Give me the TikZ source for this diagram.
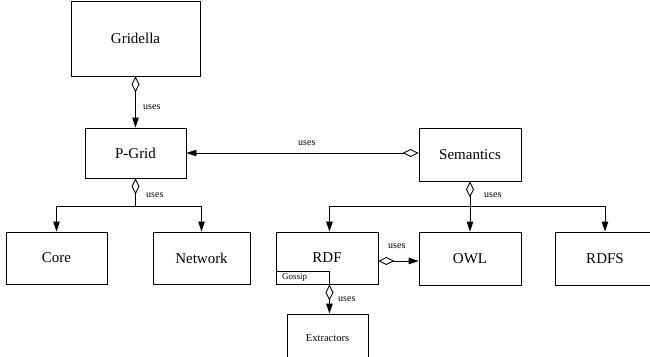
\documentclass[tikz,border=0pt]{standalone}
\usepackage{fontspec}
\setmainfont{Liberation Serif}
\usetikzlibrary{arrows.meta}
\tikzset{
  box/.style={draw, line width=0.9pt, inner sep=0pt, font=\fontsize{15}{18}\selectfont},
  lbl/.style={inner sep=0pt, anchor=west, font=\fontsize{10}{12}\selectfont},
  conn/.style={line width=0.9pt},
  dia/.style={conn, {Diamond[open, length=16pt, width=8pt, line width=0.9pt]}-},
  arr/.style={conn, -{Triangle[length=10pt, width=6.5pt]}},
  diaarr/.style={conn, {Diamond[open, length=16pt, width=8pt, line width=0.9pt]}-{Triangle[length=10pt, width=6.5pt]}}
}
\begin{document}
\begin{tikzpicture}[x=1pt, y=-1pt]
\useasboundingbox (0,0) rectangle (650,356);
\clip (0,0) rectangle (650,356);

\node[box, minimum width=129pt, minimum height=75pt] (gri) at (135.5,38.5) {Gridella};
\node[box, minimum width=101pt, minimum height=50pt] (pg) at (135.5,153) {P-Grid};
\node[box, minimum width=102pt, minimum height=53pt] (sem) at (470,154.5) {Semantics};
\node[box, minimum width=101pt, minimum height=52pt] (core) at (56.5,258) {Core};
\node[box, minimum width=97pt, minimum height=52pt] (net) at (201.5,258) {Network};
\node[box, minimum width=102pt, minimum height=52pt] (rdf) at (327,258) {RDF};
\node[box, minimum width=102pt, minimum height=53pt] (owl) at (470,258.5) {OWL};
\node[box, minimum width=100pt, minimum height=53pt] (rdfs) at (605,258.5) {RDFS};
\node[box, minimum width=81pt, minimum height=48pt, font=\fontsize{10.5}{12}\selectfont] (ext) at (327.5,338) {Extractors};
\node[draw, line width=0.9pt, anchor=south west, text width=41pt, inner xsep=6pt, inner ysep=0pt, minimum height=13pt, font=\fontsize{9}{10}\selectfont] (gos) at (rdf.south west) {Gossip};

\coordinate (pj) at (135.5,206);
\coordinate (sj) at (470,206);

\draw[diaarr] (gri.south) -- (pg.north);
\draw[diaarr] (sem.west |- 0,153) -- (pg.east |- 0,153);
\draw[dia] (pg.south) -- (pj);
\draw[arr] (pj) -| (core.north);
\draw[arr] (pj) -| (net.north);
\draw[dia] (sem.south) -- (sj);
\draw[arr] (sj) -| (gos.north east |- rdf.north);
\draw[arr] (sj) -- (owl.north);
\draw[arr] (sj) -| (rdfs.north);
\draw[diaarr] (rdf.east |- 0,261) -- (owl.west |- 0,261);
\draw[diaarr] (gos.south east) -- (gos.south east |- ext.north);

\node[lbl] (u1) at (143,107) {uses};
\node[lbl] (u2) at (298,143) {uses};
\node[lbl] (u3) at (146,195) {uses};
\node[lbl] (u4) at (484,195) {uses};
\node[lbl] (u5) at (388,246) {uses};
\node[lbl] (u6) at (338,299) {uses};
\end{tikzpicture}
\end{document}
